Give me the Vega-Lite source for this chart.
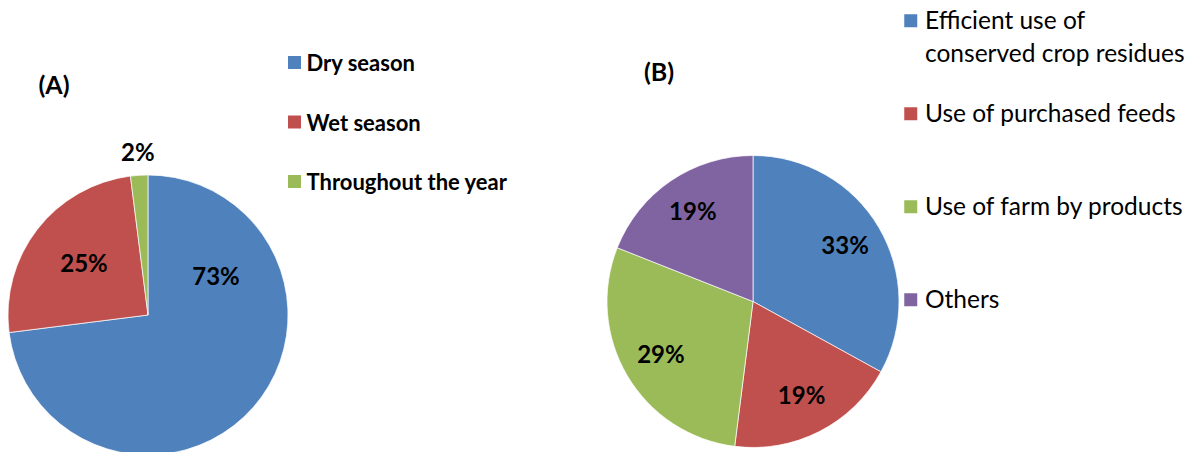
{
  "$schema": "https://vega.github.io/schema/vega-lite/v6.json",
  "width": 1193,
  "height": 452,
  "padding": 0,
  "autosize": {"type": "none"},
  "background": "white",
  "config": {
    "view": {"stroke": null},
    "font": "Lato",
    "style": {"guide-label": {"lineHeight": 33, "dy": 8.5}}
  },
  "datasets": {
    "A": [
      {"panel": "A", "cat": "Dry season", "value": 0.73},
      {"panel": "A", "cat": "Wet season", "value": 0.25},
      {"panel": "A", "cat": "Throughout the year", "value": 0.02}
    ],
    "B": [
      {"panel": "B", "cat": "Efficient use of conserved crop residues", "value": 0.33},
      {"panel": "B", "cat": "Use of purchased feeds", "value": 0.19},
      {"panel": "B", "cat": "Use of farm by products", "value": 0.29},
      {"panel": "B", "cat": "Others", "value": 0.19}
    ],
    "titles": [
      {"panel": "A", "title": "(A)"},
      {"panel": "B", "title": "(B)"}
    ]
  },
  "encoding": {
    "x": {"field": "panel", "type": "nominal", "scale": {"type": "point", "domain": ["A", "B"], "range": [148, 753], "padding": 0}, "axis": null},
    "y": {"field": "panel", "type": "nominal", "scale": {"type": "point", "domain": ["A", "B"], "range": [315, 301.5], "padding": 0}, "axis": null}
  },
  "layer": [
    {
      "data": {"name": "A"},
      "transform": [{"window": [{"op": "row_number", "as": "rn"}]}],
      "encoding": {
        "theta": {"field": "value", "type": "quantitative", "stack": true},
        "order": {"field": "rn", "type": "quantitative"}
      },
      "layer": [
        {
          "mark": {"type": "arc", "outerRadius": 140, "stroke": "white", "strokeWidth": 0.7},
          "encoding": {
            "color": {
              "field": "cat", "type": "nominal",
              "scale": {"domain": ["Dry season", "Wet season", "Throughout the year"], "range": ["#4F81BD", "#C0504D", "#9BBB59"]},
              "legend": {
                "title": null, "orient": "none", "legendX": 283.5, "legendY": 51.5,
                "symbolType": "square", "symbolSize": 169, "symbolStrokeWidth": 0, "symbolOpacity": 1,
                "labelFont": "Lato", "labelFontSize": 22, "labelFontWeight": "bold", "labelColor": "black",
                "labelBaseline": "alphabetic",
                "labelOffset": 1, "rowPadding": 35.5, "labelLimit": 400, "padding": 0
              }
            }
          }
        },
        {
          "mark": {"type": "text", "radius": 81, "fontSize": 24, "fontWeight": "bold", "color": "black"},
          "encoding": {
            "detail": {"field": "cat", "type": "nominal"},
            "text": {"condition": {"test": "datum.cat === 'Wet season'", "field": "value", "type": "quantitative", "format": ".0%"}, "value": ""}
          }
        },
        {
          "mark": {"type": "text", "radius": 161, "fontSize": 24, "fontWeight": "bold", "color": "black"},
          "encoding": {
            "detail": {"field": "cat", "type": "nominal"},
            "text": {"condition": {"test": "datum.cat === 'Throughout the year'", "field": "value", "type": "quantitative", "format": ".0%"}, "value": ""}
          }
        },
        {
          "mark": {"type": "text", "radius": 0, "dx": 68, "dy": -37, "fontSize": 24, "fontWeight": "bold", "color": "black"},
          "encoding": {
            "detail": {"field": "cat", "type": "nominal"},
            "text": {"condition": {"test": "datum.cat === 'Dry season'", "field": "value", "type": "quantitative", "format": ".0%"}, "value": ""}
          }
        }
      ]
    },
    {
      "data": {"name": "B"},
      "transform": [{"window": [{"op": "row_number", "as": "rn"}]}],
      "encoding": {
        "theta": {"field": "value", "type": "quantitative", "stack": true},
        "order": {"field": "rn", "type": "quantitative"}
      },
      "layer": [
        {
          "mark": {"type": "arc", "outerRadius": 146, "stroke": "white", "strokeWidth": 0.7},
          "encoding": {
            "color": {
              "field": "cat", "type": "nominal",
              "scale": {"domain": ["Efficient use of conserved crop residues", "Use of purchased feeds", "Use of farm by products", "Others"], "range": ["#4F81BD", "#C0504D", "#9BBB59", "#8064A2"]},
              "legend": {
                "title": null, "orient": "none", "legendX": 898.5, "legendY": 8.5,
                "symbolType": "square", "symbolSize": 169, "symbolStrokeWidth": 0, "symbolOpacity": 1,
                "labelFont": "Lato", "labelFontSize": 24.5, "labelColor": "black",
                "labelBaseline": "alphabetic",
                "labelOffset": 2, "rowPadding": 34, "labelLimit": 400, "padding": 0, "gridAlign": "all",
                "labelExpr": "datum.label === 'Efficient use of conserved crop residues' ? ['Efficient use of', 'conserved crop residues'] : datum.label"
              }
            }
          }
        },
        {
          "mark": {"type": "text", "radius": 107, "fontSize": 24, "fontWeight": "bold", "color": "black"},
          "encoding": {
            "detail": {"field": "cat", "type": "nominal"},
            "text": {"field": "value", "type": "quantitative", "format": ".0%"}
          }
        }
      ]
    },
    {
      "data": {"name": "titles"},
      "mark": {"type": "text", "dx": -94, "dy": -229, "fontSize": 25, "fontWeight": "bold", "color": "black"},
      "encoding": {"text": {"field": "title", "type": "nominal"}}
    }
  ],
  "resolve": {"scale": {"color": "independent", "theta": "independent"}, "legend": {"color": "independent"}}
}
